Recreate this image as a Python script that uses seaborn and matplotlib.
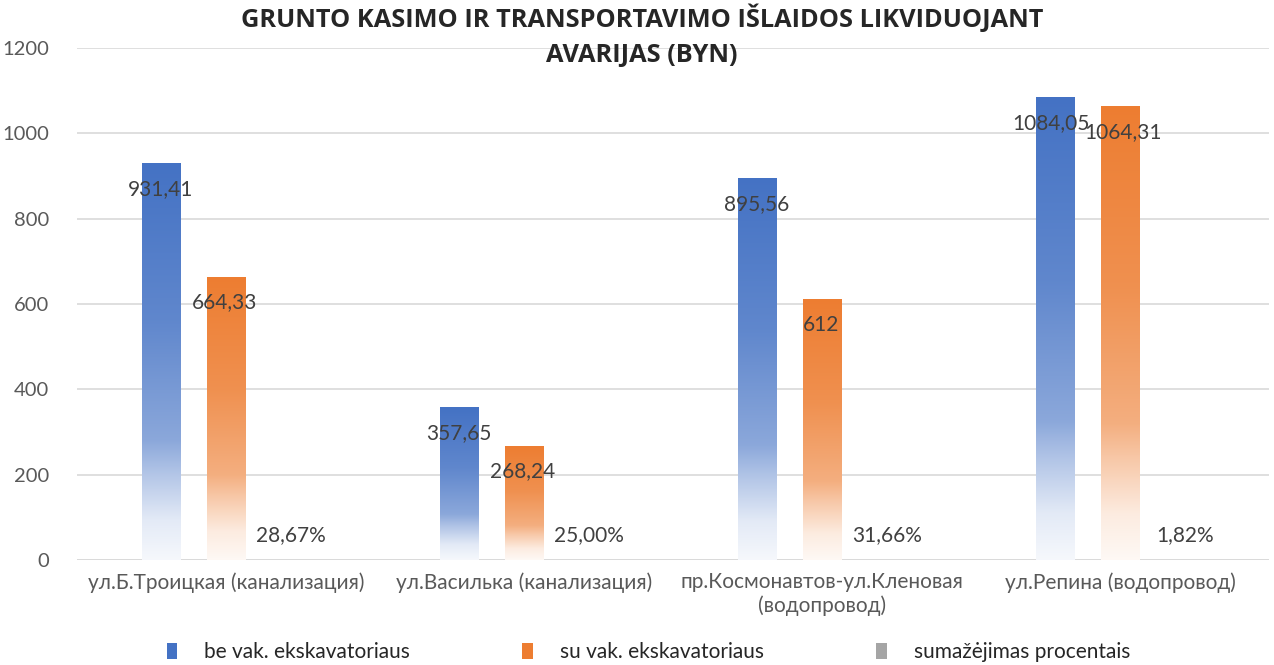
import numpy as np
import pandas as pd
import matplotlib
matplotlib.use("Agg")
import matplotlib.pyplot as plt
import seaborn as sns
from matplotlib.colors import LinearSegmentedColormap, to_rgb
from matplotlib.patches import Rectangle

categories = ["ул.Б.Троицкая (канализация)", "ул.Василька (канализация)",
              "пр.Космонавтов-ул.Кленовая\n(водопровод)", "ул.Репина (водопровод)"]
series_names = ["be vak. ekskavatoriaus", "su vak. ekskavatoriaus", "sumažėjimas procentais"]
be_vak = [931.41, 357.65, 895.56, 1084.05]
su_vak = [664.33, 268.24, 612, 1064.31]
sumazejimas = [0.2867, 0.25, 0.3166, 0.0182]
value_labels_be = ["931,41", "357,65", "895,56", "1084,05"]
value_labels_su = ["664,33", "268,24", "612", "1064,31"]
value_labels_pct = ["28,67%", "25,00%", "31,66%", "1,82%"]
title = "GRUNTO KASIMO IR TRANSPORTAVIMO IŠLAIDOS LIKVIDUOJANT\nAVARIJAS (BYN)"
yticks = [0, 200, 400, 600, 800, 1000, 1200]

colors = ["#4472C4", "#ED7D31", "#A5A5A5"]

sns.set_theme(style="white")
plt.rcParams['font.family'] = ['Lato', 'DejaVu Sans']

df = pd.DataFrame({
    "cat": np.repeat(categories, 3),
    "series": series_names * 4,
    "val": np.ravel(np.column_stack([be_vak, su_vak, sumazejimas])),
})

fig = plt.figure(figsize=(12.74, 6.65), dpi=100)
ax = fig.add_axes([77/1274, 1-560/665, 1192/1274, 512/665])

sns.barplot(data=df, x="cat", y="val", hue="series", order=categories,
            hue_order=series_names, palette=colors, width=0.654, gap=0.4,
            saturation=1, ax=ax, legend=False, errorbar=None)

def grad_cmap(c):
    r = np.array(to_rgb(c))
    w = np.ones(3)
    stops = [(0.0, 0.05), (0.1, 0.15), (0.22, 0.42), (0.3, 0.62), (0.6, 0.85), (1.0, 1.0)]
    return LinearSegmentedColormap.from_list("g", [(p, tuple(w + (r - w) * a)) for p, a in stops])

grad = np.linspace(0, 1, 256).reshape(-1, 1)
bars = [p for p in ax.patches if isinstance(p, Rectangle)]
for i, p in enumerate(bars):
    h = p.get_height()
    x0 = p.get_x(); w = p.get_width()
    fc = p.get_facecolor()
    cm = grad_cmap(fc[:3])
    im = ax.imshow(grad, cmap=cm, aspect='auto', extent=[x0, x0 + w, 0, h],
                   origin='lower', zorder=2, interpolation='bilinear')
    im.set_clip_path(p)
    p.set_facecolor('none')
    p.set_edgecolor('none')

ax.set_xlim(-0.5, 3.5)
ax.set_ylim(0, 1200)
ax.set_yticks(yticks)
ax.set_yticklabels([str(t) for t in yticks])
ax.set_xlabel(""); ax.set_ylabel("")
ax.grid(axis='y', color='#D9D9D9', linewidth=1.2, zorder=0)
ax.set_axisbelow(True)
for s in ax.spines.values():
    s.set_visible(False)
ax.axhline(0, color='#D9D9D9', linewidth=1.2, zorder=1)
ax.tick_params(axis='y', length=0, pad=20, labelsize=14.5, labelcolor='#595959')
ax.tick_params(axis='x', length=0, pad=9, labelsize=15, labelcolor='#595959')

# data labels
step = 0.218
for i in range(4):
    nudge = 4 if i == 3 else 0
    ax.annotate(value_labels_be[i], (i - step, be_vak[i]), xytext=(-nudge, -26),
                textcoords='offset pixels', ha='center', va='center', fontsize=15,
                color='#404040', zorder=5)
    ax.annotate(value_labels_su[i], (i, su_vak[i]), xytext=(-1 + nudge, -26),
                textcoords='offset pixels', ha='center', va='center', fontsize=15,
                color='#404040', zorder=5)
    ax.annotate(value_labels_pct[i], (i + step, sumazejimas[i]), xytext=(0, 25),
                textcoords='offset pixels', ha='center', va='center', fontsize=15,
                color='#404040', zorder=5)

fig.text(0.504, 0.993, title, ha='center', va='top', fontsize=18.3, fontweight='bold',
         color='#262626', linespacing=1.5, family=['Open Sans', 'DejaVu Sans'])

# legend
handles = [Rectangle((0, 0), 1, 1, facecolor=c, edgecolor='none') for c in colors]
leg = fig.legend(handles, series_names, loc='center', bbox_to_anchor=(0.509, 1-652/665),
                 ncol=3, frameon=False, fontsize=15, handlelength=0.5, handleheight=0.8,
                 handletextpad=1.3, columnspacing=5.4)
for t in leg.get_texts():
    t.set_color('#262626')

fig.savefig("out.png", dpi=100)
